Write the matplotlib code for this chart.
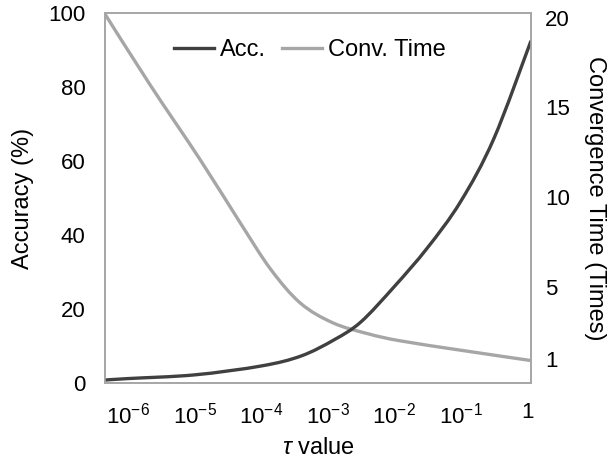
import numpy as np
import matplotlib
matplotlib.use("Agg")
import matplotlib.pyplot as plt
from matplotlib.path import Path
from matplotlib.patches import PathPatch
from matplotlib.lines import Line2D

plt.rcParams['font.family'] = ['Liberation Sans', 'DejaVu Sans']
plt.rcParams['mathtext.fontset'] = 'custom'
plt.rcParams['mathtext.rm'] = 'Liberation Sans'
plt.rcParams['mathtext.it'] = 'Liberation Sans:italic'

# log10(tau) positions and values
acc_x = [-6.35, -6.0, -5.0, -4.0, -3.4, -2.9, -2.5, -2.0, -1.5, -1.0, -0.5, 0.06]
acc = [0.8, 1.2, 2.2, 4.6, 7.3, 11.7, 16.5, 26.0, 36.5, 49.0, 66.0, 92.5]

conv_x = [-6.35, -5.67, -4.92, -4.32, -3.86, -3.41, -2.92, -2.4, -1.91, -0.95, 0.06]
conv_time = [20.2, 16.25, 12.1, 8.6, 6.0, 4.1, 3.0, 2.4, 2.0, 1.45, 0.9]

tick_pos = [-6, -5, -4, -3, -2, -1, 0]
tick_labels = ['10$^{-6}$', '10$^{-5}$', '10$^{-4}$', '10$^{-3}$', '10$^{-2}$', '10$^{-1}$', '1']


def smooth_path(x, y):
    # Excel style smoothed line (Catmull-Rom as cubic Bezier)
    p = np.column_stack([x, y]).astype(float)
    n = len(p)
    verts = [p[0]]
    codes = [Path.MOVETO]
    for i in range(n - 1):
        p0 = p[i - 1] if i > 0 else p[i]
        p3 = p[i + 2] if i + 2 < n else p[i + 1]
        c1 = p[i] + (p[i + 1] - p0) / 6
        c2 = p[i + 1] - (p3 - p[i]) / 6
        verts += [c1, c2, p[i + 1]]
        codes += [Path.CURVE4] * 3
    return Path(verts, codes)


fig = plt.figure(figsize=(6.15, 4.67), dpi=100)
ax1 = fig.add_axes([105/615, 84/467, 426/615, 370/467])
ax2 = ax1.twinx()

ax2.add_patch(PathPatch(smooth_path(conv_x, conv_time), fill=False,
                        edgecolor='#a6a6a6', lw=2.4, capstyle='butt'))
ax1.add_patch(PathPatch(smooth_path(acc_x, acc), fill=False,
                        edgecolor='#404040', lw=2.4, capstyle='butt'))
ax1.set_zorder(ax2.get_zorder() + 1)
ax1.patch.set_visible(False)

ax1.set_xlim(-6.35, 0.06)
ax1.set_ylim(0, 100)
ax2.set_ylim(-0.35, 20.26)
ax1.set_yticks([0, 20, 40, 60, 80, 100])
ax2.set_yticks([1, 5, 10, 15, 20])
ax1.set_xticks(tick_pos)
ax1.set_xticklabels(tick_labels)

for ax in (ax1, ax2):
    for s in ax.spines.values():
        s.set_color('#a6a6a6')
        s.set_linewidth(1.2)
    ax.tick_params(length=0, labelsize=16, colors='black')
ax1.tick_params(axis='y', pad=14)
ax2.tick_params(axis='y', pad=10)
ax1.tick_params(axis='x', pad=14)

ax1.set_ylabel('Accuracy (%)', fontsize=17, labelpad=10)
ax2.set_ylabel('Convergence Time (Times)', fontsize=17, rotation=270, labelpad=26)
ax1.set_xlabel('$\\tau$ value', fontsize=17, labelpad=6)

handles = [Line2D([], [], color='#404040', lw=2.4, label='Acc.'),
           Line2D([], [], color='#a6a6a6', lw=2.4, label='Conv. Time')]
ax1.legend(handles=handles, loc='center', bbox_to_anchor=(0.481, 0.9), ncol=2,
           frameon=False, fontsize=17, handlelength=1.7, columnspacing=0.65,
           handletextpad=0.25, borderpad=0.2)

fig.savefig('out.png', dpi=100)
